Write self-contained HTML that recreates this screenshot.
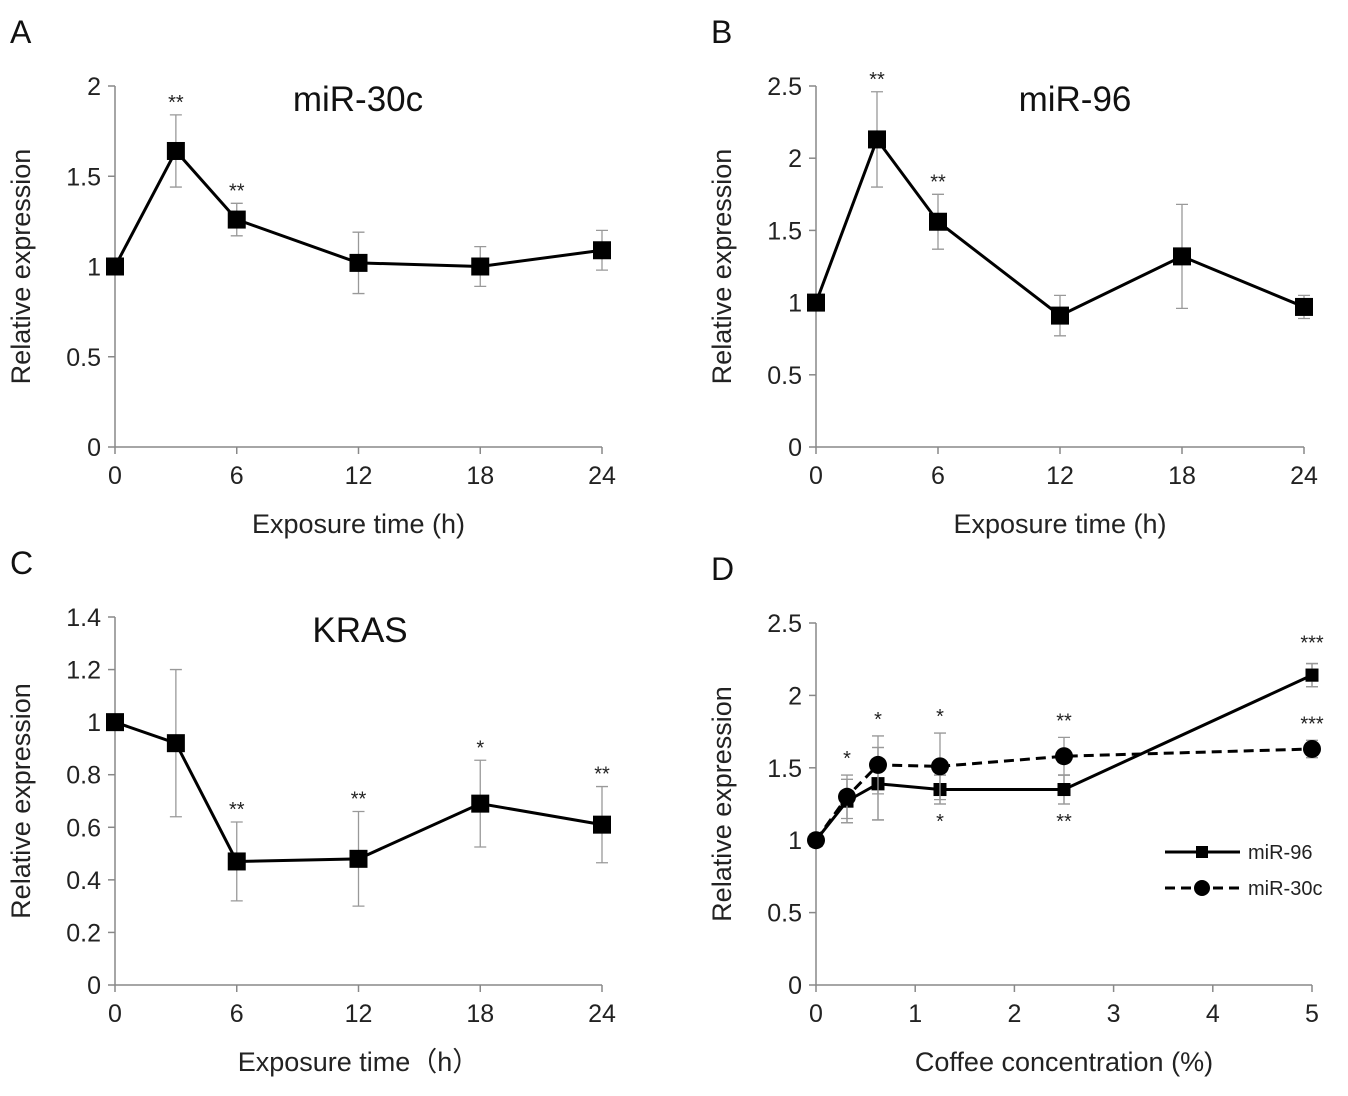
<!DOCTYPE html>
<html><head><meta charset="utf-8"><style>
body{margin:0;background:#fff}
svg{display:block;font-family:"Liberation Sans",Arial,sans-serif}
</style></head><body>
<svg id="fig" width="1348" height="1096" viewBox="0 0 1348 1096"></svg>
<script>
// Panel A: miR-30c
const timeCats = [0, 3, 6, 12, 18, 24];
const timeTicks = [0, 6, 12, 18, 24];
const aValues = [1, 1.64, 1.26, 1.02, 1.0, 1.09];
const aErrors = [0, 0.2, 0.09, 0.17, 0.11, 0.11];
const aStars = ["", "**", "**", "", "", ""];
const aTicks = [0, 0.5, 1, 1.5, 2];
// Panel B: miR-96
const bValues = [1, 2.13, 1.56, 0.91, 1.32, 0.97];
const bErrors = [0, 0.33, 0.19, 0.14, 0.36, 0.08];
const bStars = ["", "**", "**", "", "", ""];
const bTicks = [0, 0.5, 1, 1.5, 2, 2.5];
// Panel C: KRAS
const cValues = [1, 0.92, 0.47, 0.48, 0.69, 0.61];
const cErrors = [0, 0.28, 0.15, 0.18, 0.165, 0.145];
const cStars = ["", "", "**", "**", "*", "**"];
const cTicks = [0, 0.2, 0.4, 0.6, 0.8, 1, 1.2, 1.4];
// Panel D: coffee concentration
const concCats = [0, 0.3125, 0.625, 1.25, 2.5, 5];
const concTicks = [0, 1, 2, 3, 4, 5];
const d96Values = [1, 1.27, 1.39, 1.35, 1.35, 2.14];
const d96Errors = [0, 0.15, 0.25, 0.1, 0.1, 0.08];
const d96StarsBelow = ["", "", "", "*", "**", ""];
const d96StarsAbove = ["", "", "", "", "", "***"];
const d30Values = [1, 1.30, 1.52, 1.51, 1.58, 1.63];
const d30Errors = [0, 0.15, 0.2, 0.23, 0.13, 0.06];
const d30Stars = ["", "*", "*", "*", "**", "***"];
const dTicks = [0, 0.5, 1, 1.5, 2, 2.5];

const NS = "http://www.w3.org/2000/svg";
const svg = document.getElementById("fig");
function mk(tag, attrs, parent, text) {
  const e = document.createElementNS(NS, tag);
  for (const k in attrs) e.setAttribute(k, attrs[k]);
  if (text !== undefined) e.textContent = text;
  (parent || svg).appendChild(e);
  return e;
}
function panel(cfg) {
  const g = mk("g", {});
  
  
  const X = v => cfg.x0 + (v - cfg.xmin) / (cfg.xmax - cfg.xmin) * (cfg.x1 - cfg.x0);
  const Y = v => cfg.y0 - (v - cfg.ymin) / (cfg.ymax - cfg.ymin) * (cfg.y0 - cfg.y1);
  const ax = mk("path", {d: `M${cfg.x0} ${cfg.y1}V${cfg.y0}H${cfg.x1}`, stroke: "#888", fill: "none", "stroke-width": 1.5}, g);
  
  
  cfg.yTicks.forEach(t => {
    mk("line", {x1: cfg.x0 - 7, x2: cfg.x0, y1: Y(t), y2: Y(t), stroke: "#888", "stroke-width": 1.5}, g);
    const tl = mk("text", {x: cfg.x0 - 14, y: Y(t) + 9, "text-anchor": "end", "font-size": 25, fill: "#222"}, g, String(t));
    
    
  });
  cfg.xTicks.forEach(t => {
    mk("line", {x1: X(t), x2: X(t), y1: cfg.y0, y2: cfg.y0 + 7, stroke: "#888", "stroke-width": 1.5}, g);
    const tl = mk("text", {x: X(t), y: cfg.y0 + 37, "text-anchor": "middle", "font-size": 25, fill: "#222"}, g, String(t));
    
    
  });
  const xt = mk("text", {x: (cfg.x0 + cfg.x1) / 2, y: cfg.y0 + 86, "text-anchor": "middle", "font-size": 27, fill: "#222"}, g, cfg.xTitle);
  
  
  const yc = (cfg.y0 + cfg.y1) / 2;
  const yt = mk("text", {x: cfg.x0 - 85, y: yc, "text-anchor": "middle", "font-size": 27, fill: "#222", transform: `rotate(-90 ${cfg.x0 - 85} ${yc})`}, g, "Relative expression");
  
  
  const pl = mk("text", {x: cfg.x0 - 105, y: cfg.y1 - 43, "font-size": 32, fill: "#111"}, g, cfg.letter);
  
  
  if (cfg.title) {
    const tt = mk("text", {x: cfg.titleX, y: cfg.y1 + 25, "text-anchor": "middle", "font-size": 35, fill: "#111"}, g, cfg.title);
    
    
  }
  cfg.series.forEach(s => {
    const sg = mk("g", {}, g);
    
    
    s.vals.forEach((v, i) => {
      if (!s.errs[i]) return;
      const x = X(cfg.cats[i]);
      mk("path", {d: `M${x} ${Y(v - s.errs[i])}V${Y(v + s.errs[i])}M${x - 6} ${Y(v + s.errs[i])}H${x + 6}M${x - 6} ${Y(v - s.errs[i])}H${x + 6}`, stroke: "#999", "stroke-width": 1.3, fill: "none"}, sg);
    });
    if (!s.noLine) {
      const d = s.vals.map((v, i) => (i ? "L" : "M") + X(cfg.cats[i]) + " " + Y(v)).join("");
      const ln = mk("path", {d, stroke: "#000", "stroke-width": 3, fill: "none", "stroke-dasharray": s.dash || "none"}, sg);
      
      
    }
    s.vals.forEach((v, i) => {
      const x = X(cfg.cats[i]), y = Y(v);
      let m;
      if (s.marker === "circle") m = mk("circle", {cx: x, cy: y, r: s.size / 2, fill: "#000"}, sg);
      else m = mk("rect", {x: x - s.size / 2, y: y - s.size / 2, width: s.size, height: s.size, fill: "#000"}, sg);
      
      
      if (s.stars[i]) {
        const sy = s.below ? Y(v - s.errs[i]) + 24 : Y(v + s.errs[i]) - (s.gap || 6);
        const st = mk("text", {x: x, y: sy, "text-anchor": "middle", "font-size": 20, fill: "#222"}, sg, s.stars[i]);
        
        
      }
    });
  });
}
panel({name: "panel-a", letter: "A", title: "miR-30c", titleX: 358, x0: 115, x1: 602, xmin: 0, xmax: 24, y0: 447, y1: 86, ymin: 0, ymax: 2,
  cats: timeCats, xTicks: timeTicks, yTicks: aTicks, xTitle: "Exposure time (h)",
  series: [{name: "mir-30c-series", vals: aValues, errs: aErrors, stars: aStars, marker: "square", size: 18}]});
panel({name: "panel-b", letter: "B", title: "miR-96", titleX: 1075, x0: 816, x1: 1304, xmin: 0, xmax: 24, y0: 447, y1: 86, ymin: 0, ymax: 2.5,
  cats: timeCats, xTicks: timeTicks, yTicks: bTicks, xTitle: "Exposure time (h)",
  series: [{name: "mir-96-series", vals: bValues, errs: bErrors, stars: bStars, marker: "square", size: 18}]});
panel({name: "panel-c", letter: "C", title: "KRAS", titleX: 360, x0: 115, x1: 602, xmin: 0, xmax: 24, y0: 985, y1: 617, ymin: 0, ymax: 1.4,
  cats: timeCats, xTicks: timeTicks, yTicks: cTicks, xTitle: "Exposure time（h）",
  series: [{name: "kras-series", vals: cValues, errs: cErrors, stars: cStars, marker: "square", size: 18}]});
panel({name: "panel-d", letter: "D", x0: 816, x1: 1312, xmin: 0, xmax: 5, y0: 985, y1: 623, ymin: 0, ymax: 2.5,
  cats: concCats, xTicks: concTicks, yTicks: dTicks, xTitle: "Coffee concentration (%)",
  series: [
    {name: "mir-96-series", vals: d96Values, errs: d96Errors, stars: d96StarsBelow, marker: "square", size: 13, below: true},
    {name: "mir-96-stars-top", vals: d96Values, errs: d96Errors, stars: d96StarsAbove, marker: "square", size: 13, noLine: true, gap: 14},
    {name: "mir-30c-series", vals: d30Values, errs: d30Errors, stars: d30Stars, marker: "circle", size: 18, dash: "10 6", gap: 10}
  ]});
const lg = mk("g", {});


mk("line", {x1: 1165, x2: 1240, y1: 852, y2: 852, stroke: "#000", "stroke-width": 3}, lg);
mk("rect", {x: 1196, y: 846, width: 12, height: 12, fill: "#000"}, lg);
const l1 = mk("text", {x: 1248, y: 859, "font-size": 20, fill: "#222"}, lg, "miR-96");


mk("line", {x1: 1165, x2: 1240, y1: 888, y2: 888, stroke: "#000", "stroke-width": 3, "stroke-dasharray": "10 6"}, lg);
mk("circle", {cx: 1202, cy: 888, r: 8, fill: "#000"}, lg);
const l2 = mk("text", {x: 1248, y: 895, "font-size": 20, fill: "#222"}, lg, "miR-30c");


</script>
</body></html>
